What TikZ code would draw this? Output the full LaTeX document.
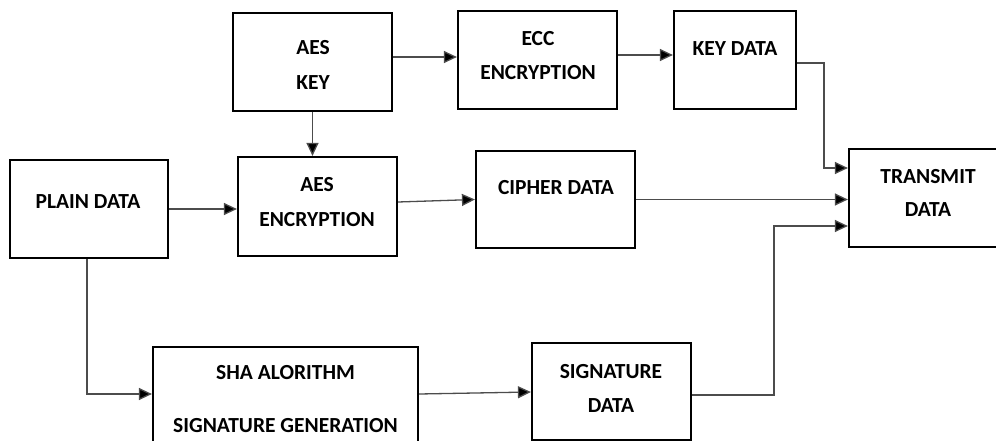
\documentclass[tikz,border=0pt]{standalone}
\usepackage{fontspec}
\setmainfont{Carlito}
\usetikzlibrary{arrows.meta}
\tikzset{
  box/.style={draw=black, line width=2.2pt, rectangle, inner sep=0pt},
  txt/.style={anchor=base, inner sep=0pt, font=\fontsize{21.5}{21.5}\selectfont\bfseries, text=black},
  conn/.style={draw=black!70, line width=1.3pt, -{Triangle[length=13pt,width=12pt,fill=black]}}
}
\begin{document}
\begin{tikzpicture}[x=1pt,y=-1pt]
\useasboundingbox (0,0) rectangle (996,441);
\clip (0,0) rectangle (996,441);
% boxes
\node[box, minimum width=159pt, minimum height=98pt] (aeskey) at (312.5,62) {};
\node[box, minimum width=159pt, minimum height=98pt] (ecc) at (537.5,60) {};
\node[box, minimum width=122pt, minimum height=98pt] (keydata) at (735,60) {};
\node[box, minimum width=158pt, minimum height=98pt] (plain) at (89,209) {};
\node[box, minimum width=159pt, minimum height=99pt] (aesenc) at (317.5,206.5) {};
\node[box, minimum width=159pt, minimum height=97pt] (cipher) at (555.5,199.5) {};
\node[box, minimum width=158pt, minimum height=98pt] (transmit) at (928,198) {};
\node[box, minimum width=265pt, minimum height=104pt] (sha) at (285.5,399) {};
\node[box, minimum width=159pt, minimum height=97pt] (sig) at (611.5,391.5) {};
% texts
\node[txt] (t1) at (313,54.8) {AES};
\node[txt] (t2) at (313,89.8) {KEY};
\node[txt] (t3) at (538,45.8) {ECC};
\node[txt] (t4) at (538,79.8) {ENCRYPTION};
\node[txt] (t5) at (735,55.8) {KEY DATA};
\node[txt] (t6) at (88,208.8) {PLAIN DATA};
\node[txt] (t7) at (317,191.8) {AES};
\node[txt] (t8) at (317,226.8) {ENCRYPTION};
\node[txt] (t9) at (556,194.8) {CIPHER DATA};
\node[txt] (t10) at (928,183.8) {TRANSMIT};
\node[txt] (t11) at (928,216.8) {DATA};
\node[txt] (t12) at (285.5,379.8) {SHA ALORITHM};
\node[txt] (t13) at (285.5,432.8) {SIGNATURE GENERATION};
\node[txt] (t14) at (611,378.8) {SIGNATURE};
\node[txt] (t15) at (611,412.8) {DATA};
% connectors
\draw[conn] (aeskey.south) -- (aeskey.south |- aesenc.north);
\draw[conn] ([yshift=5pt]aeskey.east) -- ([yshift=3pt]ecc.west);
\draw[conn] ([yshift=5pt]ecc.east) -- ([yshift=5pt]keydata.west);
\draw[conn] (plain.east) -- (plain.east -| aesenc.west);
\draw[conn] ([yshift=4.5pt]aesenc.east) -- (cipher.west);
\draw[conn] ([yshift=-3pt]keydata.east) -- ++(27,0) |- ([yshift=30pt]transmit.west);
\draw[conn] (cipher.east) -- (cipher.east -| transmit.west);
\draw[conn] ([yshift=-3.5pt]sig.east) -- ++(82,0) |- ([yshift=-28pt]transmit.west);
\draw[conn] ([xshift=-2pt]plain.south) |- ([yshift=5pt]sha.west);
\draw[conn] ([yshift=5pt]sha.east) -- ([yshift=-0.5pt]sig.west);
\end{tikzpicture}
\end{document}
